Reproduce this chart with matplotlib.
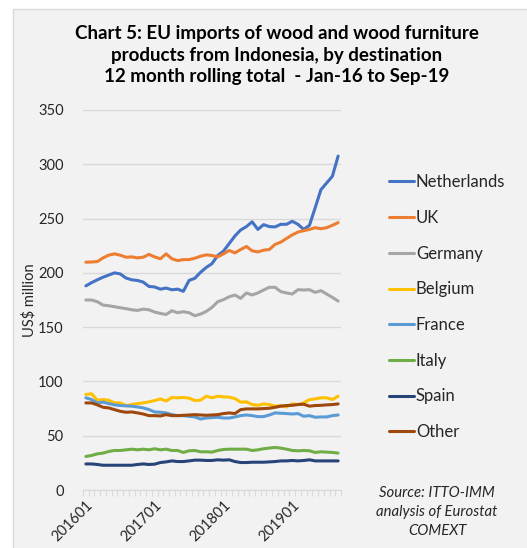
import numpy as np
import matplotlib
matplotlib.use("Agg")
import matplotlib.pyplot as plt
from matplotlib.patches import Rectangle

plt.rcParams['font.family'] = ['Lato', 'DejaVu Sans']

# 12 month rolling totals, Jan-16 .. Sep-19 (US$ million)
months = [f"{y}{m:02d}" for y in range(2016, 2020) for m in range(1, 13)][:45]
tick_labels = ["201601", "201701", "201801", "201901"]

netherlands = [188, 191, 193.6, 196, 198, 200, 199, 195.2, 193.6, 193, 191.5, 187.5,
               187, 185, 186, 184.4, 185, 183, 193, 195, 200.5, 205, 208.5, 216,
               220, 227, 234, 239.5, 242.6, 247, 240, 244.4, 242.6, 242.3, 244.7, 244.7,
               247.5, 244.7, 240, 243.8, 260, 276.6, 282.8, 289, 307.6]
uk = [209.8, 210, 210.4, 213.8, 216.3, 217.5, 216.3, 214.4, 214.7, 213.8, 214.4, 217,
      214.7, 213, 217.5, 213, 211.3, 212.2, 212.2, 213.5, 215.3, 216.6, 216, 214.7,
      217.5, 220.6, 218.4, 221.5, 224.3, 220.3, 219.3, 220.9, 221.5, 226.2, 228.3, 231.7,
      235, 237.6, 238.9, 240, 241.6, 240.7, 241.6, 243.8, 246.3]
germany = [175, 175, 173.4, 170.3, 169.7, 168.8, 167.9, 167, 166, 165.4, 166.6, 166,
           163.9, 162.6, 161.7, 165.1, 163.3, 164.2, 163.3, 160.5, 162, 164.5, 168.2, 173.4,
           175.3, 178, 179.6, 176.5, 181.5, 179.6, 181.5, 184.2, 186.7, 186.7, 182.7, 181.5,
           180.5, 184.5, 184.2, 184.5, 182, 183.6, 180.5, 177.4, 174]
belgium = [88, 88.6, 82.7, 83.3, 82.7, 80.2, 80.2, 77.8, 78.7, 79.6, 80.2, 81.2,
           82.4, 83.9, 82, 85.2, 84.9, 85.2, 84.6, 82.4, 82.7, 86.4, 84.9, 86.4,
           85.8, 85.5, 84.2, 80.9, 81.2, 78.7, 78, 79.3, 78.7, 77.2, 77.8, 76.5,
           79.3, 78.7, 80.2, 83.3, 83.9, 84.9, 84.9, 83.3, 86.4]
france = [84.9, 83.3, 80.2, 80.9, 79.6, 78.4, 77.8, 77.5, 77.2, 76.5, 75.6, 74.1,
          71.9, 71.6, 71, 69.4, 68.5, 68.5, 67.9, 67.3, 65.4, 66.3, 66.7, 67,
          66.3, 66.3, 67.3, 68.5, 69.1, 68.5, 67.6, 67.6, 69.1, 71, 70.7, 70.4,
          70, 70.4, 67.9, 68.5, 67, 67.3, 67.3, 68.5, 69.1]
italy = [30.9, 31.8, 33.3, 34, 35.5, 36.4, 36.4, 37, 37.6, 37, 37.6, 37,
         38, 37, 37.6, 36.4, 36.4, 34.6, 36.1, 36.4, 35.2, 35.2, 34.9, 36.4,
         37.3, 37.6, 37.6, 37.6, 37.6, 36.4, 37, 38, 38.6, 39.2, 38.6, 37.6,
         36.4, 36.1, 36.4, 36.1, 34.6, 35.2, 34.9, 34.6, 34]
spain = [24, 24, 23.5, 22.8, 22.8, 22.8, 22.8, 22.8, 22.8, 23.5, 24, 23.5,
         23.8, 25.3, 25.9, 26.8, 26.2, 26.2, 26.8, 27.5, 27.5, 27.2, 27.2, 27.8,
         27.5, 27.8, 26.2, 25.3, 25.3, 25.6, 25.6, 25.6, 25.9, 26.2, 26.8, 26.8,
         27.2, 26.8, 27.2, 27.8, 26.8, 26.8, 26.8, 26.8, 26.8]
other = [80.2, 80.2, 78.4, 76.2, 75.6, 74, 72.5, 71.6, 71.9, 71, 70, 68.5,
         68.5, 68.2, 69.4, 68.5, 68.5, 68.8, 69.1, 69.4, 69.1, 68.8, 69.1, 69.4,
         70.4, 71, 70.4, 74, 74.7, 74.7, 74.7, 75, 75.3, 76.2, 77.2, 77.8,
         78, 78.7, 79, 77.2, 77.8, 78, 78.4, 78.7, 79.3]

series = [("Netherlands", netherlands, "#4472c4"),
          ("UK", uk, "#ed7d31"),
          ("Germany", germany, "#a5a5a5"),
          ("Belgium", belgium, "#ffc000"),
          ("France", france, "#5b9bd5"),
          ("Italy", italy, "#70ad47"),
          ("Spain", spain, "#264478"),
          ("Other", other, "#9e480e")]

fig = plt.figure(figsize=(5.27, 5.48), dpi=100, facecolor="white")
# chart area background with thin border
bg = Rectangle((13 / 527, -0.01), 1.0, 1 - 9 / 548 + 0.01,
               transform=fig.transFigure, facecolor="#f2f2f2",
               edgecolor="#d9d9d9", linewidth=1, zorder=-10)
fig.patches.append(bg)

ax = fig.add_axes([83 / 527, 1 - 490 / 548, 258 / 527, 380 / 548])
ax.set_facecolor("none")

x = np.arange(len(months))
for name, vals, col in series:
    ax.plot(x, vals, color=col, lw=2.2, label=name, solid_capstyle="round")

ax.set_xlim(-0.5, len(months) - 0.5)
ax.set_ylim(0, 350)
ax.set_yticks(np.arange(0, 351, 50))
ax.tick_params(axis="y", length=0, labelsize=10.5, colors="#262626", pad=14)
ax.grid(axis="y", color="#d9d9d9", lw=1)
ax.set_axisbelow(True)

ax.set_xticks([months.index(t) for t in tick_labels])
ax.set_xticklabels(tick_labels, rotation=45, ha="right", rotation_mode="anchor",
                   fontsize=10.5, color="#262626")
ax.tick_params(axis="x", which="major", length=0, pad=6)
ax.set_xticks(np.arange(-0.5, len(months)), minor=True)
ax.tick_params(axis="x", which="minor", length=4, color="#d9d9d9", width=0.8)

for s in ["top", "right", "left"]:
    ax.spines[s].set_visible(False)
ax.spines["bottom"].set_color("#d9d9d9")

ax.set_ylabel("US$ million", fontsize=10.5, color="#262626")
ax.yaxis.set_label_coords(-0.182, 0.5)

fig.text(277 / 527, 1 - 55 / 548,
         "Chart 5: EU imports of wood and wood furniture\n"
         "products from Indonesia, by destination\n"
         "12 month rolling total  - Jan-16 to Sep-19",
         ha="center", va="center", fontsize=13.5, fontweight="bold",
         linespacing=1.3, color="black")

leg = fig.legend(loc="upper left", bbox_to_anchor=(381 / 527, 1 - 166 / 548),
                 frameon=False, fontsize=12, handlelength=1.5, handletextpad=0.1,
                 labelspacing=1.18, borderpad=0)
for t in leg.get_texts():
    t.set_color("#262626")

fig.text(437 / 527, 1 - 512 / 548, "Source: ITTO-IMM\nanalysis of Eurostat\nCOMEXT",
         ha="center", va="center", fontsize=10.7, style="italic", color="#262626",
         linespacing=1.45)

fig.savefig("out.png", dpi=100, facecolor="white")
